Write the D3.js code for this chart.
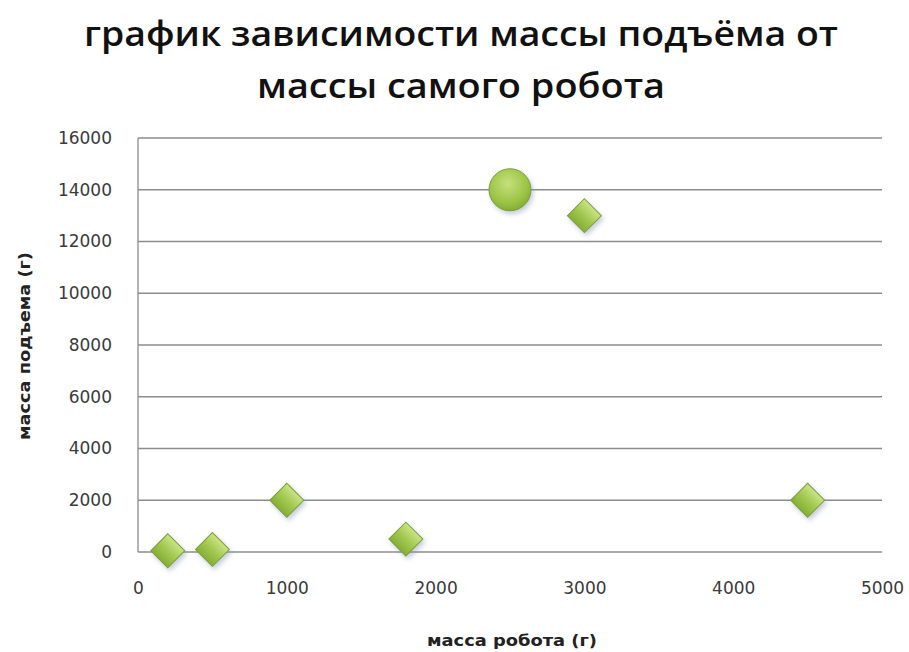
<!DOCTYPE html>
<html><head><meta charset="utf-8">
<script src="https://cdn.jsdelivr.net/npm/d3@7"></script>
<style>
html,body{margin:0;padding:0;background:#fff;}
svg{display:block;}
</style>
</head><body>
<svg id="chart" width="909" height="652"></svg>
<script>
const titleLines = ["график зависимости массы подъёма от", "массы самого робота"];
const xTitle = "масса робота (г)";
const yTitle = "масса подъема (г)";
const robotMass = [200, 500, 1000, 1800, 2500, 3000, 4500];
const liftMass  = [50, 100, 2000, 500, 14000, 13000, 2000];
const markerShape = ["diamond","diamond","diamond","diamond","circle","diamond","diamond"];
const xTicks = [0, 1000, 2000, 3000, 4000, 5000];
const yTicks = [0, 2000, 4000, 6000, 8000, 10000, 12000, 14000, 16000];

const svg = d3.select("#chart");
const m = {left:138, right:882, top:138, bottom:552};
const x = d3.scaleLinear().domain([0,5000]).range([m.left, m.right]);
const y = d3.scaleLinear().domain([0,16000]).range([m.bottom, m.top]);

const defs = svg.append("defs");
const g1 = defs.append("linearGradient").attr("id","gD").attr("x1",0).attr("y1",0).attr("x2",0).attr("y2",1);
g1.append("stop").attr("offset","0%").attr("stop-color","#cbe486");
g1.append("stop").attr("offset","50%").attr("stop-color","#a3c951");
g1.append("stop").attr("offset","100%").attr("stop-color","#86ae35");
const g2 = defs.append("radialGradient").attr("id","gC").attr("cx","45%").attr("cy","35%").attr("r","65%");
g2.append("stop").attr("offset","0%").attr("stop-color","#c6e07c");
g2.append("stop").attr("offset","70%").attr("stop-color","#9cc447");
g2.append("stop").attr("offset","100%").attr("stop-color","#85ad33");
const f = defs.append("filter").attr("id","sh").attr("x","-50%").attr("y","-50%").attr("width","200%").attr("height","200%");
f.append("feDropShadow").attr("dx",2).attr("dy",3).attr("stdDeviation",2.5).attr("flood-color","#7f8fb0").attr("flood-opacity",0.45);

// Title
svg.append("g").selectAll("text").data(titleLines).join("text")
  .attr("x", 461).attr("y",(d,i)=> 46 + i*52)
  .attr("text-anchor","middle")
  .attr("font-family","'Open Sans', sans-serif").attr("font-weight","600")
  .attr("font-size", 35).attr("fill","#111")
  .attr("textLength",(d,i)=> i===0 ? 754 : 408).attr("lengthAdjust","spacingAndGlyphs")
  .text(d=>d);

// gridlines
svg.append("g").selectAll("line").data(yTicks).join("line")
  .attr("x1", m.left).attr("x2", m.right)
  .attr("y1", d=>y(d)).attr("y2", d=>y(d))
  .attr("stroke","#8c8c8c").attr("stroke-width",1.3);
// y axis line
svg.append("line").attr("x1",m.left).attr("x2",m.left).attr("y1",m.top).attr("y2",m.bottom)
  .attr("stroke","#8c8c8c").attr("stroke-width",1.3);

// y tick labels
const yAxis = d3.axisLeft(y).tickValues(yTicks).tickSize(0).tickPadding(26).tickFormat(d3.format("d"));
const ya = svg.append("g").attr("transform",`translate(${m.left},0)`).call(yAxis);
ya.select(".domain").remove();
ya.selectAll("text").attr("font-family","'DejaVu Sans', Verdana, sans-serif").attr("font-size",17).attr("fill","#3a3a3a");

// x tick labels
const xAxis = d3.axisBottom(x).tickValues(xTicks).tickSize(0).tickPadding(30).tickFormat(d3.format("d"));
const xa = svg.append("g").attr("transform",`translate(0,${m.bottom})`).call(xAxis);
xa.select(".domain").remove();
xa.selectAll("text").attr("font-family","'DejaVu Sans', Verdana, sans-serif").attr("font-size",17).attr("fill","#3a3a3a");

// axis titles
svg.append("text").attr("x",512).attr("y",646).attr("text-anchor","middle")
  .attr("font-family","'DejaVu Sans', Verdana, sans-serif").attr("font-weight","bold").attr("font-size",15.5).attr("fill","#222")
  .attr("textLength",170).attr("lengthAdjust","spacingAndGlyphs")
  .text(xTitle);
svg.append("text").attr("transform",`translate(30,346) rotate(-90)`).attr("text-anchor","middle")
  .attr("font-family","'DejaVu Sans', Verdana, sans-serif").attr("font-weight","bold").attr("font-size",15.5).attr("fill","#222")
  .attr("textLength",188).attr("lengthAdjust","spacingAndGlyphs")
  .text(yTitle);

// markers
const pts = robotMass.map((v,i)=>({x:v, y:liftMass[i], s:markerShape[i]}));
const diamond = d3.symbol().type(d3.symbolSquare).size(24*24);
const mk = svg.append("g").selectAll("g").data(pts).join("g")
  .attr("transform", d=>`translate(${x(d.x)},${y(d.y)})`)
  .attr("filter","url(#sh)");
mk.filter(d=>d.s==="diamond").append("path")
  .attr("d", diamond).attr("transform","rotate(45)")
  .attr("fill","url(#gD)").attr("stroke","#7c9e36").attr("stroke-width",1);
mk.filter(d=>d.s==="circle").append("circle")
  .attr("r",21).attr("fill","url(#gC)").attr("stroke","#7c9e36").attr("stroke-width",1);
</script>
</body></html>
